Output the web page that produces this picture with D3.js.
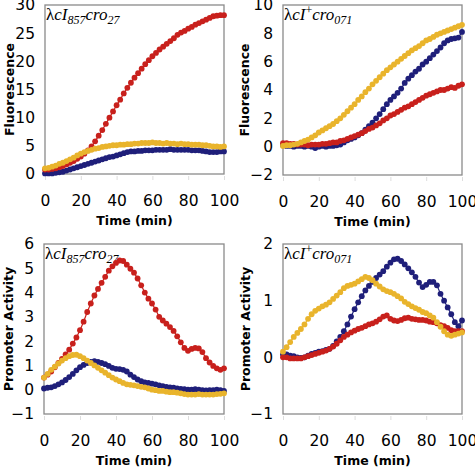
<!DOCTYPE html>
<html><head><meta charset="utf-8">
<script src="https://cdn.jsdelivr.net/npm/d3@7"></script>
<style>body{margin:0;background:#fff}svg{display:block}</style>
</head><body>
<script>
// ---------- data ----------
const time = d3.range(0, 101, 2);
const xTicks = [0, 20, 40, 60, 80, 100];
const seriesNames = ["blue", "red", "yellow"];
const seriesColors = ["#1f1f7a", "#c8201c", "#e9b42c"];

const fluorTicks1 = [0, 5, 10, 15, 20, 25, 30];
const fluor1_blue = [0.1,0.1,0.1,0.2,0.3,0.4,0.6,0.8,1.0,1.2,1.4,1.6,1.8,2.0,2.2,2.4,2.6,2.8,3.0,3.1,3.3,3.5,3.7,3.9,4.0,4.0,4.1,4.1,4.2,4.2,4.2,4.3,4.3,4.3,4.3,4.4,4.3,4.3,4.3,4.3,4.3,4.2,4.2,4.2,4.1,4.0,3.9,3.9,3.9,4.0,4.0];
const fluor1_red = [0.8,0.8,0.9,1.0,1.2,1.4,1.7,2.0,2.3,2.7,3.1,3.6,4.2,4.9,5.8,6.8,7.8,8.9,10.0,11.1,12.2,13.2,14.3,15.3,16.2,17.1,17.9,18.7,19.5,20.2,20.9,21.5,22.1,22.6,23.1,23.6,24.1,24.7,25.1,25.4,25.8,26.1,26.5,26.8,27.1,27.4,27.7,28.0,28.1,28.2,28.2];
const fluor1_yellow = [1.0,1.1,1.3,1.5,1.8,2.0,2.3,2.6,2.9,3.3,3.6,3.9,4.1,4.3,4.5,4.6,4.8,4.9,5.0,5.1,5.1,5.2,5.2,5.3,5.3,5.4,5.4,5.5,5.5,5.5,5.6,5.5,5.5,5.4,5.5,5.4,5.4,5.3,5.4,5.3,5.3,5.2,5.2,5.2,5.1,5.1,5.0,4.9,4.9,4.8,4.9];

const fluorTicks2 = [-2, 0, 2, 4, 6, 8, 10];
const fluor2_blue = [0.1,0.05,0.05,0.0,0.05,0.05,0.0,0.05,0.0,-0.1,0.0,0.05,0.0,0.05,0.05,0.1,0.15,0.3,0.45,0.55,0.65,0.8,0.95,1.2,1.45,1.7,2.0,2.3,2.65,3.0,3.3,3.55,3.8,4.1,4.5,4.8,5.05,5.3,5.5,5.8,6.0,6.25,6.5,6.75,7.0,7.3,7.5,7.6,7.65,7.7,8.1];
const fluor2_red = [0.25,0.25,0.2,0.2,0.15,0.15,0.15,0.1,0.15,0.15,0.15,0.2,0.2,0.25,0.3,0.3,0.4,0.45,0.55,0.65,0.75,0.85,0.95,1.1,1.25,1.35,1.5,1.65,1.85,2.0,2.2,2.3,2.45,2.6,2.75,2.85,3.0,3.15,3.3,3.45,3.6,3.7,3.8,3.9,4.0,4.0,4.1,4.2,4.15,4.3,4.4];
const fluor2_yellow = [0.05,0.1,0.1,0.15,0.2,0.3,0.4,0.5,0.65,0.8,1.0,1.15,1.3,1.45,1.6,1.8,2.0,2.25,2.5,2.75,3.0,3.3,3.55,3.85,4.1,4.4,4.65,4.9,5.15,5.4,5.6,5.8,6.0,6.2,6.4,6.6,6.8,6.95,7.1,7.3,7.5,7.6,7.75,7.9,8.0,8.1,8.2,8.3,8.4,8.5,8.6];

const actTicks3 = [-1, 0, 1, 2, 3, 4, 5, 6];
const act3_blue = [0.05,0.08,0.1,0.15,0.22,0.3,0.4,0.52,0.65,0.8,0.93,1.02,1.1,1.15,1.18,1.15,1.1,1.05,0.98,0.9,0.86,0.85,0.82,0.75,0.62,0.52,0.42,0.35,0.3,0.28,0.25,0.22,0.18,0.15,0.12,0.1,0.08,0.05,0.03,0.02,0.0,0.0,0.02,0.0,-0.02,-0.03,-0.02,-0.02,0.0,-0.02,-0.05];
const act3_red = [0.5,0.62,0.75,0.92,1.1,1.27,1.45,1.65,1.9,2.15,2.45,2.8,3.2,3.55,3.88,4.15,4.4,4.65,4.9,5.08,5.22,5.32,5.3,5.15,4.98,4.82,4.58,4.3,4.0,3.75,3.55,3.3,3.0,2.85,2.72,2.58,2.42,2.2,1.95,1.72,1.6,1.68,1.72,1.7,1.55,1.3,1.12,0.98,0.88,0.82,0.88];
const act3_yellow = [0.5,0.65,0.82,0.95,1.08,1.2,1.3,1.38,1.43,1.44,1.38,1.3,1.2,1.1,1.0,0.9,0.8,0.7,0.6,0.5,0.42,0.35,0.28,0.22,0.2,0.18,0.15,0.12,0.1,0.05,0.0,-0.02,-0.05,-0.05,-0.08,-0.1,-0.1,-0.12,-0.15,-0.18,-0.2,-0.2,-0.2,-0.18,-0.2,-0.2,-0.2,-0.2,-0.18,-0.17,-0.15];

const actTicks4 = [-1, 0, 1, 2];
const act4_blue = [0.05,0.05,0.03,0.02,0.0,-0.01,0.0,0.03,0.06,0.08,0.1,0.11,0.13,0.15,0.2,0.28,0.36,0.46,0.58,0.72,0.85,0.97,1.08,1.18,1.26,1.33,1.4,1.46,1.52,1.6,1.67,1.73,1.74,1.7,1.64,1.57,1.5,1.42,1.32,1.24,1.28,1.33,1.33,1.27,1.12,1.0,0.88,0.76,0.62,0.55,0.65];
const act4_red = [0.0,0.0,-0.02,-0.02,-0.02,-0.02,0.0,0.02,0.04,0.06,0.08,0.1,0.12,0.15,0.19,0.24,0.3,0.36,0.4,0.44,0.47,0.5,0.52,0.55,0.58,0.6,0.63,0.67,0.72,0.74,0.68,0.65,0.64,0.66,0.69,0.7,0.68,0.67,0.66,0.66,0.65,0.63,0.62,0.6,0.57,0.55,0.52,0.48,0.46,0.46,0.46];
const act4_yellow = [0.1,0.18,0.27,0.36,0.43,0.5,0.58,0.68,0.76,0.82,0.86,0.9,0.93,0.97,1.03,1.09,1.15,1.22,1.26,1.28,1.3,1.34,1.38,1.42,1.4,1.36,1.3,1.25,1.2,1.17,1.15,1.12,1.08,1.04,0.98,0.94,0.9,0.87,0.84,0.8,0.78,0.74,0.7,0.62,0.54,0.46,0.4,0.38,0.4,0.42,0.44];

const xTitle = "Time (min)";
const yTitles = ["Fluorescence", "Fluorescence", "Promoter Activity", "Promoter Activity"];

// ---------- layout ----------
const W = 475, H = 469;
const svg = d3.select("body").append("svg").attr("width", W).attr("height", H);

const panels = [
  {box:[45,224,5,174], ticks:fluorTicks1, series:[fluor1_blue,fluor1_red,fluor1_yellow], title:"a", ytx:9},
  {box:[283,462,5,175], ticks:fluorTicks2, series:[fluor2_blue,fluor2_red,fluor2_yellow], title:"b", ytx:244},
  {box:[44,224,244,414], ticks:actTicks3, series:[act3_blue,act3_red,act3_yellow], title:"a", ytx:8},
  {box:[283,462,244,414], ticks:actTicks4, series:[act4_blue,act4_red,act4_yellow], title:"b", ytx:245}
];

const tickFont = "DejaVu Sans, Verdana, sans-serif";

panels.forEach((p, pi) => {
  const [x0, x1, y0, y1] = p.box;
  const x = d3.scaleLinear().domain([0, 100]).range([x0, x1]);
  const y = d3.scaleLinear().domain(d3.extent(p.ticks)).range([y1, y0]);
  const g = svg.append("g");

  // frame
  g.append("rect").attr("x", x0).attr("y", y0).attr("width", x1 - x0).attr("height", y1 - y0)
    .attr("fill", "#fff").attr("stroke", "#8a8a8a").attr("stroke-width", 1.3);

  // y tick labels
  const ya = d3.axisLeft(y).tickValues(p.ticks).tickSize(0).tickPadding(10).tickFormat(d3.format("d"));
  const yg = g.append("g").attr("transform", `translate(${x0},0)`).call(ya);
  yg.select(".domain").remove();
  yg.selectAll("text").attr("font-family", tickFont).attr("font-size", 15.5).attr("fill", "#000");

  // x axis: faint ticks + labels
  const xa = d3.axisBottom(x).tickValues(xTicks).tickSize(4).tickPadding(15).tickFormat(d3.format("d"));
  const xg = g.append("g").attr("transform", `translate(0,${y1 + 2})`).call(xa);
  xg.select(".domain").remove();
  xg.selectAll("line").attr("stroke", "#ddd");
  xg.selectAll("text").attr("font-family", tickFont).attr("font-size", 15.5).attr("fill", "#000");

  // axis titles
  g.append("text").attr("x", (x0 + x1) / 2).attr("y", y1 + 51).attr("text-anchor", "middle")
    .attr("font-family", tickFont).attr("font-weight", "bold").attr("font-size", 12.5).text(xTitle);
  g.append("text").attr("transform", `translate(${p.ytx},${(y0 + y1) / 2}) rotate(-90)`)
    .attr("text-anchor", "middle").attr("dominant-baseline", "central")
    .attr("font-family", tickFont).attr("font-weight", "bold").attr("font-size", 12.5).text(yTitles[pi]);

  // panel title
  const t = g.append("text").attr("x", x0 + 1).attr("y", y0 + 15)
    .attr("font-family", "Liberation Serif, Times New Roman, serif").attr("font-size", 17).attr("fill", "#000");
  t.append("tspan").text("λ");
  t.append("tspan").attr("font-style", "italic").text("cI");
  if (p.title === "a") {
    t.append("tspan").attr("font-style", "italic").attr("font-size", 12).attr("dy", 4).text("857");
    t.append("tspan").attr("font-style", "italic").attr("dy", -4).text("cro");
    t.append("tspan").attr("font-style", "italic").attr("font-size", 12).attr("dy", 4).text("27");
  } else {
    t.append("tspan").attr("font-size", 12).attr("dy", -6).text("+");
    t.append("tspan").attr("font-style", "italic").attr("dy", 6).text("cro");
    t.append("tspan").attr("font-style", "italic").attr("font-size", 12).attr("dy", 4).text("071");
  }

  // series
  p.series.forEach((vals, si) => {
    const col = seriesColors[si];
    const pts = time.map((tm, i) => [tm, vals[i]]);
    g.append("path").datum(pts)
      .attr("d", d3.line().x(d => x(d[0])).y(d => y(d[1])))
      .attr("fill", "none").attr("stroke", col).attr("stroke-width", 1.2);
    g.selectAll(null).data(pts).enter().append("circle")
      .attr("cx", d => x(d[0])).attr("cy", d => y(d[1])).attr("r", 2.9)
      .attr("fill", col);
  });
});
</script>
</body></html>
